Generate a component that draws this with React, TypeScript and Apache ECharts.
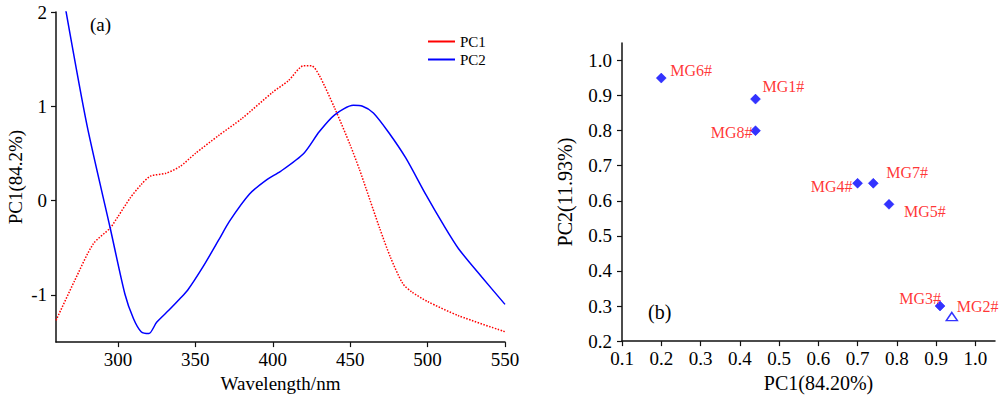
import React, { useEffect, useRef } from "react";
import * as echarts from "echarts";

// ---------- data ----------
const pc1Wavelength = [260, 272, 284, 295, 300, 308, 315, 321, 331, 340, 350, 365, 380, 400, 410, 420, 425, 430, 440, 450, 456, 460, 469, 476, 484, 490, 500, 520, 550];
const pc1Loading = [-1.27, -0.85, -0.46, -0.29, -0.17, 0.03, 0.17, 0.26, 0.29, 0.36, 0.5, 0.69, 0.87, 1.15, 1.27, 1.43, 1.43, 1.33, 0.98, 0.59, 0.33, 0.14, -0.29, -0.6, -0.88, -0.97, -1.07, -1.22, -1.39];

const pc2Wavelength = [266, 280, 295, 304.5, 310, 315, 320, 325, 333, 340, 345, 355, 365, 372, 385, 396, 405, 420, 430, 440, 452, 458, 465, 475, 486, 499, 510, 520, 535, 550];
const pc2Loading = [2.05, 0.8, -0.29, -0.99, -1.25, -1.39, -1.41, -1.29, -1.16, -1.04, -0.95, -0.7, -0.42, -0.22, 0.07, 0.22, 0.31, 0.5, 0.73, 0.91, 1.01, 1.0, 0.93, 0.72, 0.45, 0.06, -0.25, -0.51, -0.81, -1.1];

const sampleNames = ["MG1#", "MG2#", "MG3#", "MG4#", "MG5#", "MG6#", "MG7#", "MG8#"];
const samplePC1 = [0.44, 0.94, 0.91, 0.7, 0.78, 0.2, 0.74, 0.44];
const samplePC2 = [0.89, 0.27, 0.3, 0.65, 0.59, 0.95, 0.65, 0.8];
const sampleMarker = ["diamond", "triangle", "diamond", "diamond", "diamond", "diamond", "diamond", "diamond"];

const wavelengthTicks = [300, 350, 400, 450, 500, 550];
const loadingTicks = [-1, 0, 1, 2];
const pc1Ticks = [0.1, 0.2, 0.3, 0.4, 0.5, 0.6, 0.7, 0.8, 0.9, 1.0];
const pc2Ticks = [0.2, 0.3, 0.4, 0.5, 0.6, 0.7, 0.8, 0.9, 1.0];

// ---------- styles ----------
const FONT = "'Liberation Serif', 'Times New Roman', serif";
const labelPlacement: Record<string, { align: string; dx: number; dy: number }> = {
  "MG1#": { align: "left", dx: 7, dy: -13 },
  "MG2#": { align: "left", dx: 5, dy: -10 },
  "MG3#": { align: "right", dx: 1, dy: -8 },
  "MG4#": { align: "right", dx: -5, dy: 3 },
  "MG5#": { align: "left", dx: 15, dy: 7 },
  "MG6#": { align: "left", dx: 9, dy: -8 },
  "MG7#": { align: "left", dx: 13, dy: -11 },
  "MG8#": { align: "right", dx: -3, dy: 1.5 },
};

const axisLineStyle = { show: true, onZero: false, lineStyle: { color: "#111", width: 1.5 } };
const tickStyle = { lineStyle: { color: "#111", width: 1.2 } };

export default function App() {
  const ref = useRef<HTMLDivElement>(null);

  useEffect(() => {
    document.body.style.margin = "0";
    if (!ref.current) return;
    const chart = echarts.init(ref.current, null, { renderer: "svg" });

    const scatterData = sampleNames.map((name, i) => {
      const p = labelPlacement[name];
      const isTri = sampleMarker[i] === "triangle";
      return {
        name,
        value: [samplePC1[i], samplePC2[i]],
        symbol: sampleMarker[i],
        symbolSize: isTri ? [11, 8] : 10,
        itemStyle: isTri
          ? { color: "#ffffff", borderColor: "#0000ff", borderWidth: 1.5 }
          : { color: "#0000ff", borderColor: "#0000ff", borderWidth: 0.5 },
        label: {
          show: true,
          formatter: name,
          position: "inside",
          align: p.align,
          verticalAlign: "middle",
          offset: [p.dx, p.dy],
          color: "#ff0000",
          fontSize: 16,
          fontFamily: FONT,
        },
      };
    });

    const option: any = {
      animation: false,
      backgroundColor: "#ffffff",
      textStyle: { fontFamily: FONT },
      grid: [
        { left: 56, right: 495, top: 12, bottom: 53 },
        { left: 622, right: 5, top: 43, bottom: 53 },
      ],
      legend: {
        data: ["PC1", "PC2"],
        orient: "vertical",
        left: 423,
        top: 29,
        icon: "rect",
        itemWidth: 27,
        itemHeight: 2,
        itemGap: 3,
        itemStyle: { borderWidth: 0 },
        lineStyle: { type: "solid", width: 0 },
        textStyle: { fontSize: 15, fontFamily: FONT, color: "#000", lineHeight: 15 },
      },
      xAxis: [
        {
          gridIndex: 0,
          type: "value",
          min: 260,
          max: 550,
          name: "Wavelength/nm",
          nameLocation: "middle",
          nameGap: 28,
          nameTextStyle: { fontSize: 19, fontFamily: FONT, color: "#000" },
          axisLine: axisLineStyle,
          axisTick: { show: true, length: 5, customValues: wavelengthTicks, ...tickStyle },
          axisLabel: { customValues: wavelengthTicks, fontSize: 19, fontFamily: FONT, color: "#000", margin: 8 },
          splitLine: { show: false },
        },
        {
          gridIndex: 1,
          type: "value",
          min: 0.1,
          max: 1.05,
          name: "PC1(84.20%)",
          nameLocation: "middle",
          nameGap: 31,
          nameTextStyle: { fontSize: 20, fontFamily: FONT, color: "#000", padding: [0, 0, 0, 20] },
          axisLine: axisLineStyle,
          axisTick: { show: true, length: 5, customValues: pc1Ticks, ...tickStyle },
          axisLabel: {
            customValues: pc1Ticks,
            formatter: (v: number) => v.toFixed(1),
            fontSize: 19,
            fontFamily: FONT,
            color: "#000",
            margin: 8,
          },
          splitLine: { show: false },
        },
      ],
      yAxis: [
        {
          gridIndex: 0,
          type: "value",
          min: -1.5,
          max: 2,
          name: "PC1(84.2%)",
          nameLocation: "middle",
          nameGap: 31,
          nameTextStyle: { fontSize: 19, fontFamily: FONT, color: "#000" },
          axisLine: axisLineStyle,
          axisTick: { show: true, length: 5, customValues: loadingTicks, ...tickStyle },
          axisLabel: { customValues: loadingTicks, fontSize: 19, fontFamily: FONT, color: "#000", margin: 9 },
          splitLine: { show: false },
        },
        {
          gridIndex: 1,
          type: "value",
          min: 0.2,
          max: 1.05,
          name: "PC2(11.93%)",
          nameLocation: "middle",
          nameGap: 47,
          nameTextStyle: { fontSize: 20, fontFamily: FONT, color: "#000" },
          axisLine: axisLineStyle,
          axisTick: { show: true, length: 5, customValues: pc2Ticks, ...tickStyle },
          axisLabel: {
            customValues: pc2Ticks,
            formatter: (v: number) => v.toFixed(1),
            fontSize: 19,
            fontFamily: FONT,
            color: "#000",
            margin: 10,
          },
          splitLine: { show: false },
        },
      ],
      graphic: [
        {
          type: "text",
          left: 90,
          top: 15,
          style: { text: "(a)", fontSize: 19, fontFamily: FONT, fill: "#000" },
        },
        {
          type: "text",
          left: 648,
          top: 302,
          style: { text: "(b)", fontSize: 20, fontFamily: FONT, fill: "#000" },
        },
      ],
      series: [
        {
          name: "PC1",
          type: "line",
          xAxisIndex: 0,
          yAxisIndex: 0,
          data: pc1Wavelength.map((w, i) => [w, pc1Loading[i]]),
          symbol: "none",
          smooth: 0.25,
          color: "#ff0000",
          lineStyle: { color: "#ff0000", width: 1.5, type: "dotted" },
        },
        {
          name: "PC2",
          type: "line",
          xAxisIndex: 0,
          yAxisIndex: 0,
          data: pc2Wavelength.map((w, i) => [w, pc2Loading[i]]),
          symbol: "none",
          smooth: 0.25,
          color: "#0000ff",
          lineStyle: { color: "#0000ff", width: 1.5 },
        },
        {
          name: "samples",
          type: "scatter",
          xAxisIndex: 1,
          yAxisIndex: 1,
          data: scatterData,
        },
      ],
    };

    chart.setOption(option);
    return () => chart.dispose();
  }, []);

  return <div ref={ref} style={{ width: 1000, height: 398 }} />;
}
